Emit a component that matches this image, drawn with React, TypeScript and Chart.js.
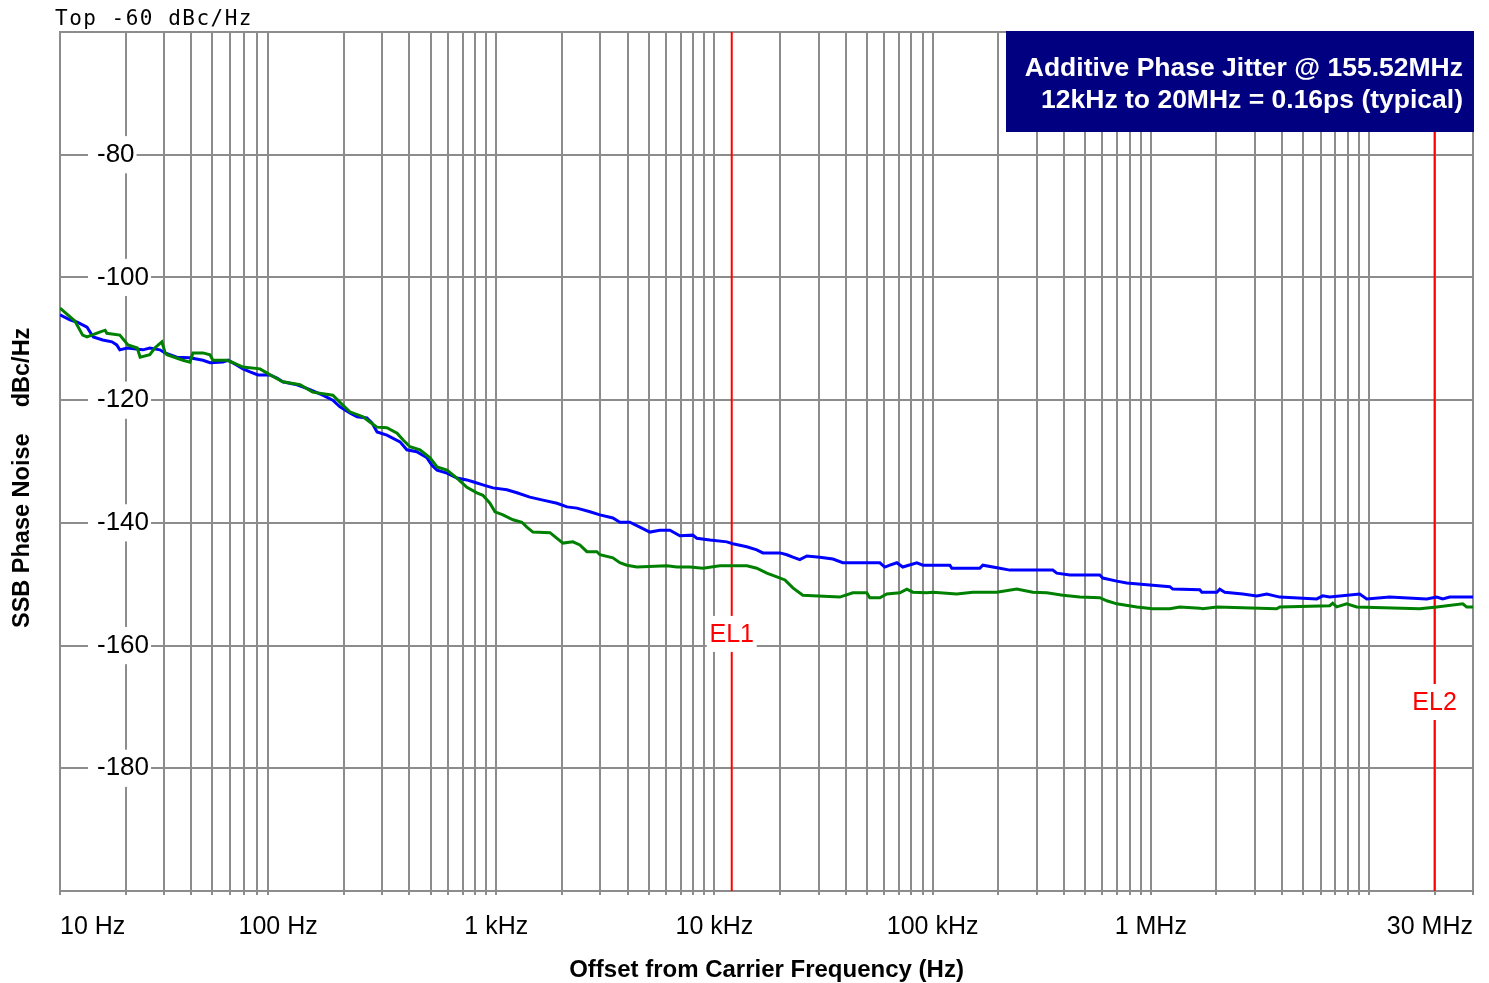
import React, { useEffect, useRef } from 'react';
import { Chart, registerables } from 'chart.js';

Chart.register(...registerables);

// ---- data (frequency in Hz, SSB phase noise in dBc/Hz) ----
const blueTrace: [number, number][] = [
  [10, -106.1], [11.1, -106.9], [12, -107.3], [13.3, -108.1], [14.2, -109.7], [15.7, -110.2],
  [17.3, -110.5], [18.2, -111.0], [18.8, -111.8], [20.3, -111.5], [24, -111.8], [25.8, -111.5],
  [28.7, -111.8], [30.3, -112.3], [34.3, -113.0], [39.4, -113.1], [45.2, -113.5], [48.7, -113.9],
  [55.8, -113.8], [58.9, -113.5], [64.7, -114.3], [69, -114.9], [74.3, -115.4], [80.8, -115.9],
  [91.7, -115.9], [98.8, -116.4], [105, -117.0], [122, -117.5], [140, -118.3], [160, -119.2],
  [178, -120.0], [192, -121.1], [213, -122.1], [230, -122.7], [255, -122.9], [269, -123.7],
  [284, -125.2], [315, -125.7], [362, -126.8], [389, -128.1], [432, -128.4], [481, -129.4],
  [507, -130.6], [535, -131.4], [594, -131.9], [660, -132.7], [733, -133.0], [781, -133.3],
  [868, -133.8], [965, -134.3], [1118, -134.6], [1243, -135.1], [1425, -135.8], [1636, -136.3],
  [1897, -136.8], [2109, -137.4], [2341, -137.6], [2687, -138.2], [2985, -138.7], [3424, -139.2],
  [3684, -139.9], [4093, -139.9], [4550, -140.7], [5055, -141.5], [5620, -141.2], [6250, -141.2],
  [6940, -142.1], [7960, -142.0], [8300, -142.5], [9530, -142.8], [11400, -143.1], [12140, -143.4],
  [14060, -143.9], [15630, -144.4], [16670, -144.9], [19950, -144.9], [21480, -145.2], [22880, -145.6],
  [24620, -146.0], [26530, -145.4], [30410, -145.6], [34910, -145.9], [38750, -146.5], [57280, -146.5],
  [60390, -147.2], [63670, -146.9], [68550, -146.5], [72960, -147.2], [84650, -146.5], [90200, -146.9],
  [120000, -146.9], [122500, -147.4], [164500, -147.4], [169900, -146.9], [203200, -147.4],
  [226000, -147.7], [355700, -147.7], [370800, -148.2], [425500, -148.5], [584000, -148.5],
  [602600, -149.0], [698500, -149.5], [776000, -149.8], [959000, -150.1], [1223000, -150.4],
  [1262000, -150.8], [1678000, -150.9], [1714000, -151.3], [2009000, -151.3], [2072000, -150.8],
  [2184000, -151.3], [2641000, -151.6], [3062000, -151.9], [3403000, -151.6], [3902000, -152.1],
  [5767000, -152.4], [6141000, -151.9], [6610000, -152.1], [9073000, -151.6], [9772000, -152.4],
  [12450000, -152.1], [18400000, -152.4], [20460000, -152.1], [21790000, -152.4], [23460000, -152.1],
  [30000000, -152.1],
];

const greenTrace: [number, number][] = [
  [10, -105.0], [11.7, -107.1], [12.7, -109.4], [13.3, -109.7], [15.2, -108.9], [16.1, -108.6],
  [16.4, -109.1], [18.8, -109.4], [20.5, -111.0], [22.6, -111.5], [23.3, -113.0], [25.8, -112.6],
  [27.2, -111.5], [29.3, -110.5], [30.3, -112.2], [30.9, -112.6], [36.6, -113.5], [39.4, -113.8],
  [40.7, -112.3], [45.2, -112.3], [48.7, -112.6], [50.2, -113.5], [58.2, -113.5], [62.1, -113.9],
  [69, -114.6], [82.6, -114.9], [89, -115.6], [105, -117.0], [126, -117.5], [144, -118.7],
  [178, -119.2], [198, -120.8], [213, -121.9], [245, -122.7], [264, -123.6], [284, -124.4],
  [315, -124.5], [351, -125.4], [374, -126.5], [402, -127.6], [447, -128.1], [497, -129.4],
  [535, -130.9], [594, -131.4], [660, -132.7], [733, -134.2], [815, -135.1], [868, -135.5],
  [935, -136.8], [986, -138.2], [1073, -138.7], [1192, -139.5], [1310, -139.9], [1381, -140.7],
  [1472, -141.5], [1762, -141.6], [2020, -143.3], [2245, -143.1], [2416, -143.6], [2602, -144.7],
  [2891, -144.7], [2985, -145.2], [3424, -145.7], [3684, -146.5], [3969, -146.9], [4408, -147.2],
  [6050, -147.0], [6728, -147.2], [7717, -147.2], [8856, -147.4], [10590, -147.0], [14080, -147.0],
  [15630, -147.4], [17380, -148.2], [19330, -148.8], [21040, -149.3], [22880, -150.6], [25420, -151.8],
  [28260, -151.9], [37550, -152.1], [43070, -151.4], [49890, -151.4], [51520, -152.2], [57280, -152.2],
  [61660, -151.6], [70750, -151.4], [76220, -150.8], [81160, -151.3], [94000, -151.4], [100200, -151.3],
  [129000, -151.6], [152800, -151.3], [196800, -151.3], [243000, -150.8], [287700, -151.3],
  [333600, -151.4], [395200, -151.8], [473000, -152.1], [584000, -152.2], [628600, -152.7],
  [698500, -153.2], [862700, -153.7], [1021000, -154.0], [1223000, -154.0], [1358000, -153.7],
  [1678000, -153.9], [1730000, -154.0], [2009000, -153.7], [3777000, -154.0], [3902000, -153.7],
  [6610000, -153.5], [6823000, -153.1], [7116000, -153.7], [7911000, -153.2], [8792000, -153.7],
  [17090000, -154.0], [20460000, -153.7], [26930000, -153.2], [28060000, -153.7], [30000000, -153.7],
];

// integration limit markers
const markerFreqs = [12000, 20000000];
const markerNames = ['EL1', 'EL2'];
const markerLabelDb = [-158.1, -169.2];

// axes
const xMin = 10;
const xMax = 30000000;
const xDecades = [10, 100, 1000, 10000, 100000, 1000000, 10000000];
const xMantissas = [1, 2, 3, 4, 5, 6, 7, 8, 9];
const xLabelValues = [10, 100, 1000, 10000, 100000, 1000000, 30000000];
const xLabelTexts = ['10 Hz', '100 Hz', '1 kHz', '10 kHz', '100 kHz', '1 MHz', '30 MHz'];
const xHiddenGrid = [100];
const yMin = -200;
const yMax = -60;
const yStep = 20;

// texts
const infoLines = ['Additive Phase Jitter @ 155.52MHz', '12kHz to 20MHz = 0.16ps (typical)'];
const topNote = 'Top -60 dBc/Hz';
const xTitle = 'Offset from Carrier Frequency (Hz)';
const yTitle = 'SSB Phase Noise    dBc/Hz     ';

const GRID = '#8c8c8c';
const SANS = '"Liberation Sans", Arial, Helvetica, sans-serif';

const xGridValues: number[] = [];
xDecades.forEach((d) => xMantissas.forEach((m) => {
  const v = d * m;
  if (v >= xMin && v <= xMax) xGridValues.push(v);
}));

const overlayPlugin = {
  id: 'overlay',
  afterDatasetsDraw(chart: any) {
    const { ctx, scales } = chart;
    ctx.save();
    ctx.font = `25px ${SANS}`;
    ctx.textAlign = 'center';
    ctx.textBaseline = 'middle';
    markerFreqs.forEach((f, i) => {
      const x = scales.x.getPixelForValue(f);
      const y = scales.y.getPixelForValue(markerLabelDb[i]);
      ctx.fillStyle = '#ffffff';
      ctx.fillRect(x - 25, y - 18, 50, 36);
      ctx.fillStyle = '#ff0000';
      ctx.fillText(markerNames[i], x, y + 1);
    });
    ctx.restore();
  },
  afterDraw(chart: any) {
    const { ctx, chartArea } = chart;
    ctx.save();
    // top reference note
    ctx.font = '21px "DejaVu Sans Mono", monospace';
    try { (ctx as any).letterSpacing = '1.5px'; } catch (e) { /* ignore */ }
    ctx.fillStyle = '#000';
    ctx.textAlign = 'left';
    ctx.textBaseline = 'alphabetic';
    ctx.fillText(topNote, chartArea.left - 5, chartArea.top - 7);
    try { (ctx as any).letterSpacing = '0px'; } catch (e) { /* ignore */ }
    // info box
    const boxW = 468;
    const boxH = 101;
    ctx.fillStyle = '#000080';
    ctx.fillRect(chartArea.right + 1 - boxW, chartArea.top - 1, boxW, boxH);
    ctx.fillStyle = '#ffffff';
    ctx.font = `bold 26.5px ${SANS}`;
    ctx.textAlign = 'right';
    ctx.fillText(infoLines[0], chartArea.right - 10, chartArea.top + 44);
    ctx.fillText(infoLines[1], chartArea.right - 10, chartArea.top + 76);
    ctx.restore();
  },
};

export default function App() {
  const canvasRef = useRef<HTMLCanvasElement | null>(null);

  useEffect(() => {
    const canvas = canvasRef.current;
    if (!canvas) return;
    const toXY = (t: [number, number][]) => t.map(([x, y]) => ({ x, y }));
    const markerSets = markerFreqs.map((f) => ({
      label: '',
      data: [{ x: f, y: yMin }, { x: f, y: yMax }],
      borderColor: '#ff0000',
      borderWidth: 2,
      pointRadius: 0,
      order: 3,
    }));
    const chart = new Chart(canvas, {
      type: 'line',
      data: {
        datasets: [
          {
            label: 'green',
            data: toXY(greenTrace),
            borderColor: '#008000',
            borderWidth: 3,
            pointRadius: 0,
            tension: 0,
            order: 1,
          },
          {
            label: 'blue',
            data: toXY(blueTrace),
            borderColor: '#0000ff',
            borderWidth: 3,
            pointRadius: 0,
            tension: 0,
            order: 2,
          },
          ...markerSets,
        ],
      },
      options: {
        animation: false,
        responsive: false,
        devicePixelRatio: 1,
        layout: { padding: { top: 32, right: 16, left: 0, bottom: 0 } },
        plugins: {
          legend: { display: false },
          tooltip: { enabled: false },
        },
        scales: {
          x: {
            type: 'logarithmic',
            min: xMin,
            max: xMax,
            afterBuildTicks: (axis: any) => {
              axis.ticks = xGridValues.map((value) => ({ value }));
            },
            afterFit: (axis: any) => {
              axis.height = 92;
              axis.paddingLeft = 0;
              axis.paddingRight = 0;
              axis.paddingTop = 0;
              axis.paddingBottom = 0;
            },
            grid: {
              color: (c: any) => (c.tick && xHiddenGrid.includes(c.tick.value) ? 'rgba(0,0,0,0)' : GRID),
              lineWidth: 2,
              drawTicks: true,
              tickLength: 4,
            },
            border: { color: GRID, width: 2 },
            ticks: {
              autoSkip: false,
              maxRotation: 0,
              minRotation: 0,
              align: 'inner',
              padding: 17,
              color: '#000',
              font: { family: SANS, size: 25 },
              callback: (v: any) => {
                const i = xLabelValues.indexOf(Number(v));
                return i >= 0 ? xLabelTexts[i] : '';
              },
            },
            title: {
              display: true,
              text: xTitle,
              color: '#000',
              font: { family: SANS, size: 24, weight: 'bold', lineHeight: 1 },
              padding: { top: 0, bottom: 1 },
            },
          },
          y: {
            type: 'linear',
            min: yMin,
            max: yMax,
            afterFit: (axis: any) => {
              axis.width = 60;
              axis.paddingTop = 0;
              axis.paddingBottom = 0;
              axis.paddingLeft = 0;
              axis.paddingRight = 0;
            },
            grid: { color: GRID, lineWidth: 2, drawTicks: false },
            border: { color: GRID, width: 2 },
            ticks: {
              stepSize: yStep,
              mirror: true,
              padding: 37,
              color: '#000',
              font: { family: SANS, size: 26 },
              showLabelBackdrop: true,
              backdropColor: (c: any) => (c.tick && (c.tick.value === yMin || c.tick.value === yMax) ? 'rgba(0,0,0,0)' : '#ffffff'),
              backdropPadding: { top: 3, bottom: 3, left: 9, right: 2 },
              callback: (v: any) => (Number(v) === yMin || Number(v) === yMax ? '' : String(v)),
            },
            title: {
              display: true,
              text: yTitle,
              color: '#000',
              font: { family: SANS, size: 23.5, weight: 'bold', lineHeight: 1.2 },
              padding: { top: 8, bottom: 0 },
            },
          },
        },
      } as any,
      plugins: [overlayPlugin],
    });
    return () => chart.destroy();
  }, []);

  return (
    <div style={{ position: 'absolute', left: 0, top: 0, width: 1489, height: 983, background: '#fff' }}>
      <canvas ref={canvasRef} width={1489} height={983} style={{ display: 'block' }} />
    </div>
  );
}
